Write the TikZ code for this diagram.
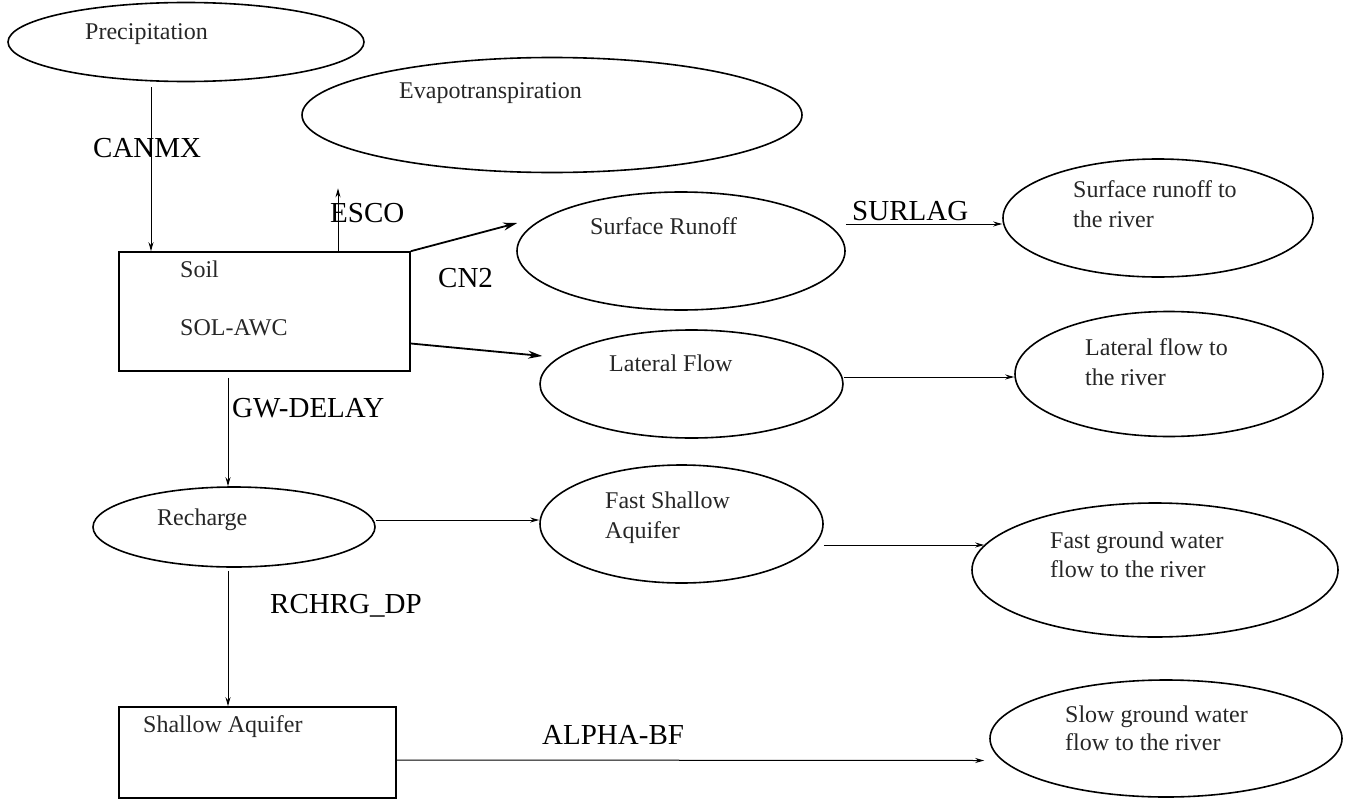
\documentclass[tikz,border=0pt]{standalone}
\usepackage{fontspec}
\setmainfont{Liberation Serif}
\usetikzlibrary{arrows.meta,shapes.geometric}
\begin{document}
\begin{tikzpicture}[x=1pt,y=-1pt,
  ell/.style={draw, ellipse, line width=1.6pt, inner sep=0pt},
  boxnode/.style={draw, rectangle, line width=1.6pt, inner sep=0pt},
  ntext/.style={font=\fontsize{24}{30}\selectfont, anchor=base west, inner sep=0pt, text=black!85},
  lbl/.style={font=\fontsize{29}{34}\selectfont, anchor=base west, inner sep=0pt},
  arr/.style={line width=1pt, -{Stealth[length=9pt,width=5pt]}},
  thickarr/.style={line width=1.8pt, -{Stealth[length=14pt,width=8pt]}}]
\useasboundingbox (0,0) rectangle (1346,800);

% shapes
\node[ell, minimum width=356pt, minimum height=79pt] (prec) at (186,42) {};
\node[ell, minimum width=500pt, minimum height=115pt] (evap) at (552,115) {};
\node[boxnode, minimum width=291pt, minimum height=119pt] (soil) at (264.5,311.5) {};
\node[ell, minimum width=328pt, minimum height=118pt] (surf) at (681,251) {};
\node[ell, minimum width=310pt, minimum height=118pt] (surfr) at (1158,218) {};
\node[ell, minimum width=303pt, minimum height=108pt] (lat) at (691.5,384) {};
\node[ell, minimum width=308pt, minimum height=125pt] (latr) at (1169,374) {};
\node[ell, minimum width=282pt, minimum height=80pt] (rech) at (234,527) {};
\node[ell, minimum width=283pt, minimum height=118pt] (fsa) at (681.5,524) {};
\node[ell, minimum width=366pt, minimum height=134pt] (fgw) at (1155,570) {};
\node[boxnode, minimum width=277pt, minimum height=91pt] (shaq) at (257.5,752.5) {};
\node[ell, minimum width=352pt, minimum height=117pt] (sgw) at (1166,738.5) {};

% texts inside shapes
\node[ntext] (tprec) at (85,40) {Precipitation};
\node[ntext] (tevap) at (399,98) {Evapotranspiration};
\node[ntext] (tsoil) at (180,277) {Soil};
\node[ntext] (tsol) at (180,335) {SOL-AWC};
\node[ntext] (tsurf) at (590,234) {Surface Runoff};
\node[ntext] (tsurfr1) at (1073,197) {Surface runoff to};
\node[ntext] (tsurfr2) at (1073,227) {the river};
\node[ntext] (tlat) at (609,371) {Lateral Flow};
\node[ntext] (tlatr1) at (1085,355) {Lateral flow to};
\node[ntext] (tlatr2) at (1085,385) {the river};
\node[ntext] (trech) at (157,525) {Recharge};
\node[ntext] (tfsa1) at (605,508) {Fast Shallow};
\node[ntext] (tfsa2) at (605,538) {Aquifer};
\node[ntext] (tfgw1) at (1050,548) {Fast ground water};
\node[ntext] (tfgw2) at (1050,577) {flow to the river};
\node[ntext] (tshaq) at (143,732) {Shallow Aquifer};
\node[ntext] (tsgw1) at (1065,722) {Slow ground water};
\node[ntext] (tsgw2) at (1065,750) {flow to the river};

% labels
\node[lbl] (canmx) at (93,157) {CANMX};
\node[lbl] (esco) at (330,222) {ESCO};
\node[lbl] (cn2) at (438,287) {CN2};
\node[lbl] (surlag) at (852,220) {SURLAG};
\node[lbl] (gwd) at (232,417) {GW-DELAY};
\node[lbl] (rchrg) at (270,613) {RCHRG\_DP};
\node[lbl] (alpha) at (542,744) {ALPHA-BF};

% connectors
\draw[arr] ([xshift=-35pt,yshift=-5pt]prec.south) -- ([xshift=-113.5pt]soil.north);
\draw[arr] ([xshift=73.5pt]soil.north) -- ([xshift=-214pt,yshift=-15pt]evap.south);
\draw[thickarr] (soil.north east) -- ([xshift=1pt,yshift=28pt]surf.west);
\draw[arr] ([yshift=27pt]surf.east) -- ([yshift=-6pt]surfr.west);
\draw[thickarr] ([yshift=-32pt]soil.east) -- ([xshift=3pt,yshift=28pt]lat.west);
\draw[arr] ([yshift=7pt]lat.east) -- ([yshift=-3pt]latr.west);
\draw[arr] ([xshift=-36.5pt,yshift=-6pt]soil.south) -- ([xshift=-6pt]rech.north);
\draw[arr] ([yshift=7pt]rech.east) -- ([yshift=4pt]fsa.west);
\draw[arr] ([yshift=-21pt]fsa.east) -- ([xshift=13pt,yshift=25pt]fgw.west);
\draw[arr] ([xshift=-6pt,yshift=-3pt]rech.south) -- ([xshift=-29.5pt]shaq.north);
\draw[arr] ([yshift=-7.5pt]shaq.east) -- ([xshift=-5pt,yshift=-22pt]sgw.west);
\end{tikzpicture}
\end{document}
